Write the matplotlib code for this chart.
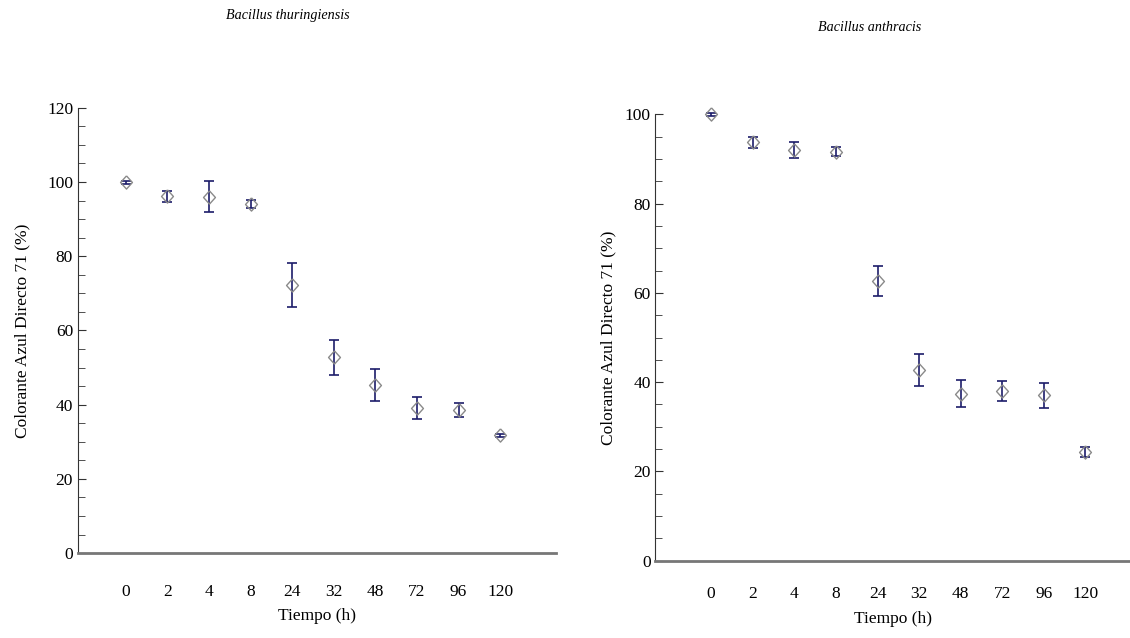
import matplotlib.pyplot as plt
from matplotlib.ticker import MultipleLocator

plt.rcParams['font.family'] = ['Liberation Serif', 'DejaVu Serif']

tiempos = ['0', '2', '4', '8', '24', '32', '48', '72', '96', '120']

# Bacillus thuringiensis
bt_media = [100, 96.2, 96.0, 94.1, 72.2, 52.8, 45.3, 39.1, 38.6, 31.8]
bt_err = [0.4, 1.5, 4.2, 1.0, 6.0, 4.7, 4.4, 3.0, 1.8, 0.4]

# Bacillus anthracis
ba_media = [100, 93.7, 92.0, 91.6, 62.6, 42.8, 37.4, 38.0, 37.1, 24.4]
ba_err = [0.3, 1.2, 1.7, 1.0, 3.4, 3.6, 3.0, 2.2, 2.8, 1.1]

rombo = [(0, 1), (0.9, 0), (0, -1), (-0.9, 0), (0, 1)]

fig = plt.figure(figsize=(11.3, 6.38), dpi=100)

def panel(rect, media, err, titulo, ymax, xlim, title_pos, pad_x, ypad):
    ax = fig.add_axes(rect)
    x = list(range(len(tiempos)))
    ax.errorbar(x, media, yerr=err, fmt='none', ecolor='#1c1c6a',
                elinewidth=1.2, capsize=3.5, capthick=1.2, clip_on=False)
    ax.plot(x, media, linestyle='none', marker=rombo, markersize=9.5,
            markerfacecolor='none', markeredgecolor='#8a8a8a',
            markeredgewidth=1.0, clip_on=False)
    ax.set_xlim(*xlim)
    ax.set_ylim(0, ymax)
    ax.set_xticks(x)
    ax.set_xticklabels(tiempos)
    ax.yaxis.set_major_locator(MultipleLocator(20))
    ax.yaxis.set_minor_locator(MultipleLocator(5))
    ax.tick_params(axis='x', length=0, pad=pad_x, labelsize=12.5)
    ax.tick_params(axis='y', which='major', direction='in', length=6,
                   labelsize=12.5, color='#333333')
    ax.tick_params(axis='y', which='minor', direction='in', length=5,
                   color='#333333')
    for s in ['top', 'right']:
        ax.spines[s].set_visible(False)
    ax.spines['left'].set_color('#333333')
    ax.spines['bottom'].set_color('#777777')
    ax.spines['bottom'].set_linewidth(2)
    ax.set_xlabel('Tiempo (h)', fontsize=12.5, labelpad=6)
    ax.set_ylabel('Colorante Azul Directo 71 (%)', fontsize=12.5, labelpad=ypad)
    fig.text(title_pos[0], title_pos[1], titulo,
             style='italic', fontsize=10.2, ha='center', va='center')
    return ax

panel([0.069, 0.133, 0.423, 0.698], bt_media, bt_err,
      'Bacillus thuringiensis', 120, (-1.15, 10.34), (0.255, 0.975), 22, 12)
panel([0.580, 0.121, 0.42, 0.70], ba_media, ba_err,
      'Bacillus anthracis', 100, (-1.34, 10.07), (0.77, 0.957), 18.5, 6)

fig.savefig('out.png', dpi=100)
